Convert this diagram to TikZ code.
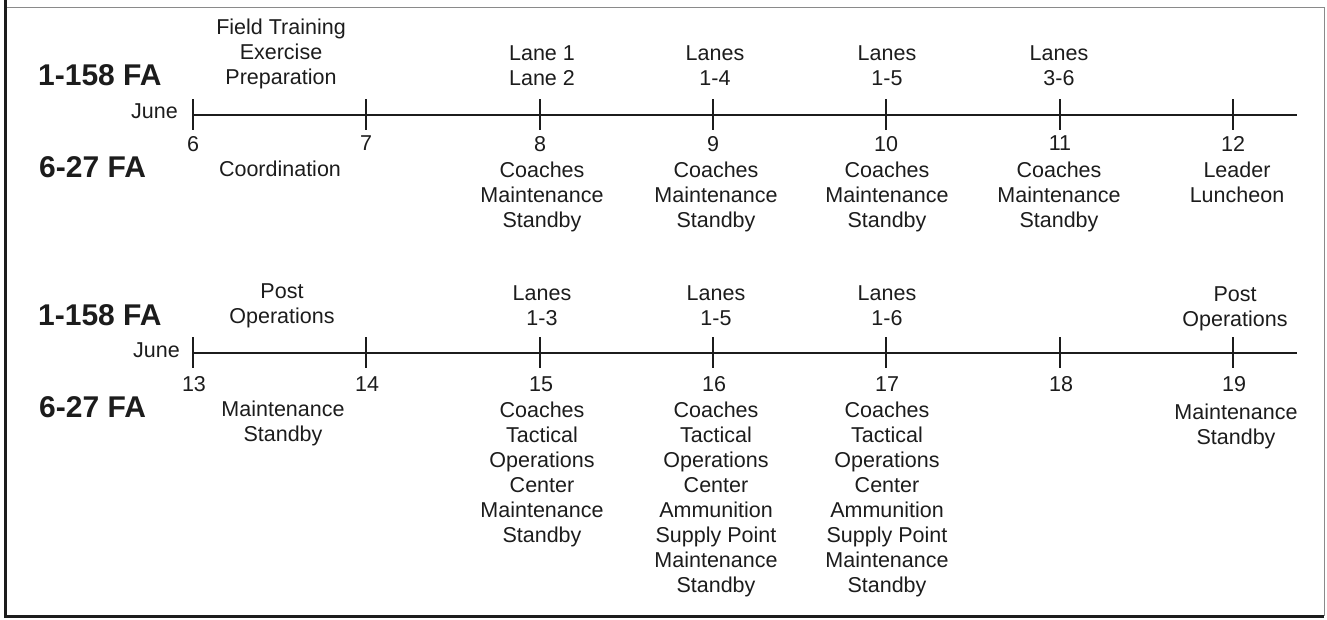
\documentclass[tikz,border=0pt]{standalone}
\usepackage{fontspec}
\setmainfont{Liberation Sans}
\definecolor{ink}{HTML}{1C1C1C}
\definecolor{frameg}{HTML}{8A8A8A}
\begin{document}
\begin{tikzpicture}[x=1pt,y=-1pt,
  lbl/.style={anchor=north,inner sep=0pt,align=center,text=ink,font=\fontsize{21.5}{25}\selectfont},
  grp/.style={anchor=base west,inner sep=0pt,text=ink,font=\fontsize{30}{34}\selectfont\bfseries},
  mon/.style={anchor=base east,inner sep=0pt,text=ink,font=\fontsize{21.5}{25}\selectfont},
  axis/.style={draw=ink,line width=1.8pt},
  tickmark/.style={draw=ink,line width=1.8pt}]
\useasboundingbox (0,0) rectangle (1327,619);
% frame
\draw[frameg,line width=1pt] (5,7) -- (1324,7) -- (1324,616);
\draw[ink,line width=2.6pt] (5.5,0) -- (5.5,616.5) -- (1324,616.5);

% ---------- first week ----------
\node[grp] (ua1) at (38,85) {1-158 FA};
\node[grp] (ub1) at (39,177) {6-27 FA};
\node[mon] (m1) at (178,118) {June};
\foreach \x/\d in {193/6,366/7,540/8,713/9,886/10,1060/11,1233/12}{
  \coordinate (a\d) at (\x,115);
  \draw[tickmark] (a\d) +(0,-16) -- +(0,15);
  \node[lbl] (n\d) at (\x,136) {\d};
}
\coordinate (aend) at (1297,115);
\draw[axis] (a6) -- (aend);

\node[lbl] (ft) at (281,19) {Field Training\\Exercise\\Preparation};
\node[lbl] (co) at (280,161) {Coordination};
\node[lbl] (l8) at (542,46) {Lane 1\\Lane 2};
\node[lbl] (l9) at (715,46) {Lanes\\1-4};
\node[lbl] (l10) at (887,46) {Lanes\\1-5};
\node[lbl] (l11) at (1059,46) {Lanes\\3-6};
\node[lbl] (c8) at (542,162) {Coaches\\Maintenance\\Standby};
\node[lbl] (c9) at (716,162) {Coaches\\Maintenance\\Standby};
\node[lbl] (c10) at (887,162) {Coaches\\Maintenance\\Standby};
\node[lbl] (c11) at (1059,162) {Coaches\\Maintenance\\Standby};
\node[lbl] (c12) at (1237,162) {Leader\\Luncheon};

% ---------- second week ----------
\node[grp] (ua2) at (38,325) {1-158 FA};
\node[grp] (ub2) at (39,417) {6-27 FA};
\node[mon] (m2) at (180,357) {June};
\foreach \x/\d in {193/13,366/14,540/15,713/16,886/17,1060/18,1233/19}{
  \coordinate (b\d) at (\x,353);
  \draw[tickmark] (b\d) +(0,-16) -- +(0,15);
  \node[lbl] (n\d) at (\x+1,376) {\d};
}
\coordinate (bend) at (1297,353);
\draw[axis] (b13) -- (bend);

\node[lbl] (po1) at (282,284) {Post\\Operations};
\node[lbl] (ms1) at (283,401) {Maintenance\\Standby};
\node[lbl] (l15) at (542,286) {Lanes\\1-3};
\node[lbl] (l16) at (716,286) {Lanes\\1-5};
\node[lbl] (l17) at (887,286) {Lanes\\1-6};
\node[lbl] (po2) at (1235,287) {Post\\Operations};
\node[lbl] (c15) at (542,402) {Coaches\\Tactical\\Operations\\Center\\Maintenance\\Standby};
\node[lbl] (c16) at (716,402) {Coaches\\Tactical\\Operations\\Center\\Ammunition\\Supply Point\\Maintenance\\Standby};
\node[lbl] (c17) at (887,402) {Coaches\\Tactical\\Operations\\Center\\Ammunition\\Supply Point\\Maintenance\\Standby};
\node[lbl] (ms2) at (1236,404) {Maintenance\\Standby};
\end{tikzpicture}
\end{document}
